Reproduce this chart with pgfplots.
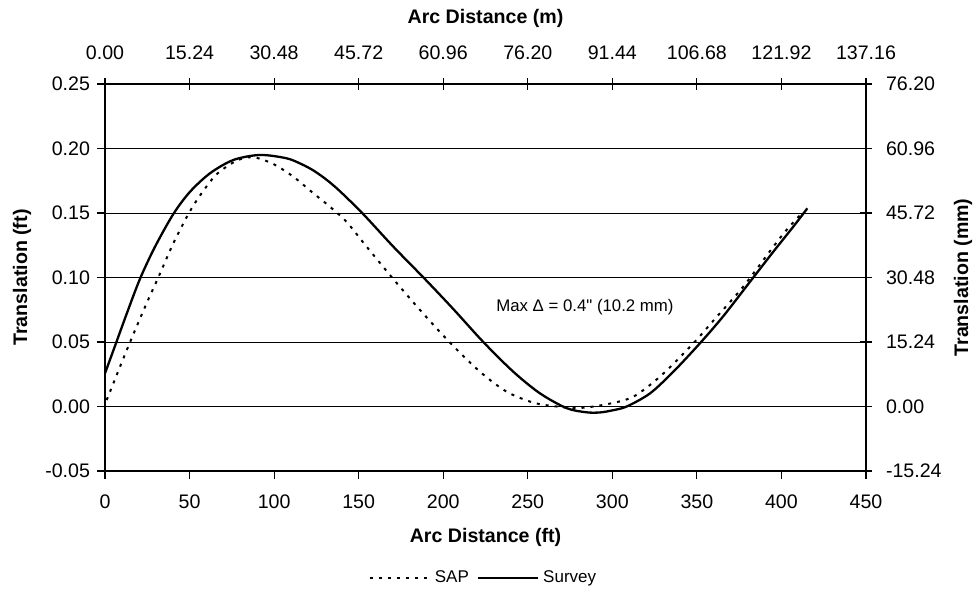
\documentclass[border=0pt]{standalone}
\usepackage{fontspec}
\setmainfont{Liberation Sans}
\usepackage{pgfplots}
\pgfplotsset{compat=1.18}

\pgfplotstableread{
x y
0 0.0257
6.9 0.0505
12.8 0.0718
20.7 0.0990
29.6 0.1239
40.4 0.1492
50.3 0.1665
62.1 0.1808
75.9 0.1911
91.7 0.1950
107.4 0.1924
116 0.1880
123.2 0.1830
131 0.1758
139 0.1668
152.8 0.1490
170.5 0.1239
189.2 0.0988
206 0.0755
223.7 0.0500
241.4 0.0270
257.2 0.0102
273 -0.0013
284.8 -0.0045
292.7 -0.0046
300 -0.0030
308.5 0.0000
322.3 0.0102
336.1 0.0270
351.8 0.0490
365.6 0.0700
381.4 0.0967
395.2 0.1200
407 0.1394
415.3 0.1536
}\survey

\pgfplotstableread{
x y
1 0.0050
8.9 0.0309
15.8 0.0530
24.6 0.0800
31.5 0.1000
40.4 0.1265
49.3 0.1492
56.2 0.1636
66 0.1800
77.9 0.1906
87.7 0.1932
99.5 0.1880
111.4 0.1781
123.2 0.1653
133 0.1549
142.9 0.1430
154.7 0.1239
170.5 0.0988
186.3 0.0748
204 0.0495
221.7 0.0270
237.5 0.0115
253.3 0.0030
267.1 0.0000
280 -0.0012
295.7 0.0015
312.4 0.0076
329.2 0.0244
347.9 0.0490
360.7 0.0680
377.4 0.0929
395.2 0.1239
403.1 0.1370
411 0.1484
}\sap

\begin{document}
\begin{tikzpicture}
\pgfplotsset{
  common/.style={
    scale only axis, width=380.5pt, height=193.5pt,
    xmin=0, xmax=450, ymin=-0.05, ymax=0.25,
    tick style={black, line width=0.6pt},
    axis line style={black, line width=0.8pt, -},
    tick label style={font=\fontsize{9.8}{11}\selectfont},
    label style={font=\fontsize{9.8}{11}\selectfont\bfseries},
  }
}
\begin{axis}[common,
  xtick={0,50,...,450},
  xticklabels={0,50,100,150,200,250,300,350,400,450},
  ytick={-0.05,0,0.05,0.1,0.15,0.2,0.25},
  yticklabels={-0.05,0.00,0.05,0.10,0.15,0.20,0.25},
  xtick pos=bottom, ytick pos=left,
  tick align=outside, major tick length=4pt,
  ymajorgrids, grid style={black, line width=0.5pt},
  xticklabel style={yshift=-4.5pt},
  xlabel={Arc Distance (ft)},
  ylabel={Translation (ft)},
  xlabel style={at={(0.5,-0.1718)}, anchor=center},
  ylabel style={at={(-0.109,0.5)}, anchor=center},
  legend style={draw=none, fill=none, at={(0.4987,-0.2765)}, anchor=center,
    legend columns=2, font=\fontsize{8.5}{10}\selectfont,
    /tikz/every even column/.append style={column sep=2pt},
    inner sep=0pt, nodes={inner sep=2pt}},
  legend image code/.code={\draw[#1] (0pt,0pt) -- (30pt,0pt);},
]
\addplot[black, line width=1pt, dash pattern=on 1.5pt off 3pt, smooth] table[x=x,y=y] {\sap};
\addlegendentry{SAP}
\addplot[black, line width=1.15pt, smooth] table[x=x,y=y] {\survey};
\addlegendentry{Survey}
\node[font=\fontsize{8.4}{10}\selectfont] at (axis cs:283.8,0.0771) {Max Δ = 0.4\textquotedbl{} (10.2 mm)};
\end{axis}
\begin{axis}[common,
  axis x line*=top, axis y line*=right,
  tick align=center, major tick length=6pt,
  xtick={0,50,...,450},
  xticklabels={0.00,15.24,30.48,45.72,60.96,76.20,91.44,106.68,121.92,137.16},
  ytick={-0.05,0,0.05,0.1,0.15,0.2,0.25},
  yticklabels={-15.24,0.00,15.24,30.48,45.72,60.96,76.20},
  xticklabel style={yshift=5.5pt},
  yticklabel style={xshift=3.5pt},
  xlabel={Arc Distance (m)},
  ylabel={Translation (mm)},
  xlabel style={at={(0.5,1.1705)}, anchor=center},
  ylabel style={at={(1.1275,0.5)}, anchor=center},
]
\end{axis}
\pgfresetboundingbox
\path ([shift={(-52.5pt,-64.5pt)}]current axis.south west) rectangle ([shift={(434.5pt,235.5pt)}]current axis.south west);
\end{tikzpicture}
\end{document}
